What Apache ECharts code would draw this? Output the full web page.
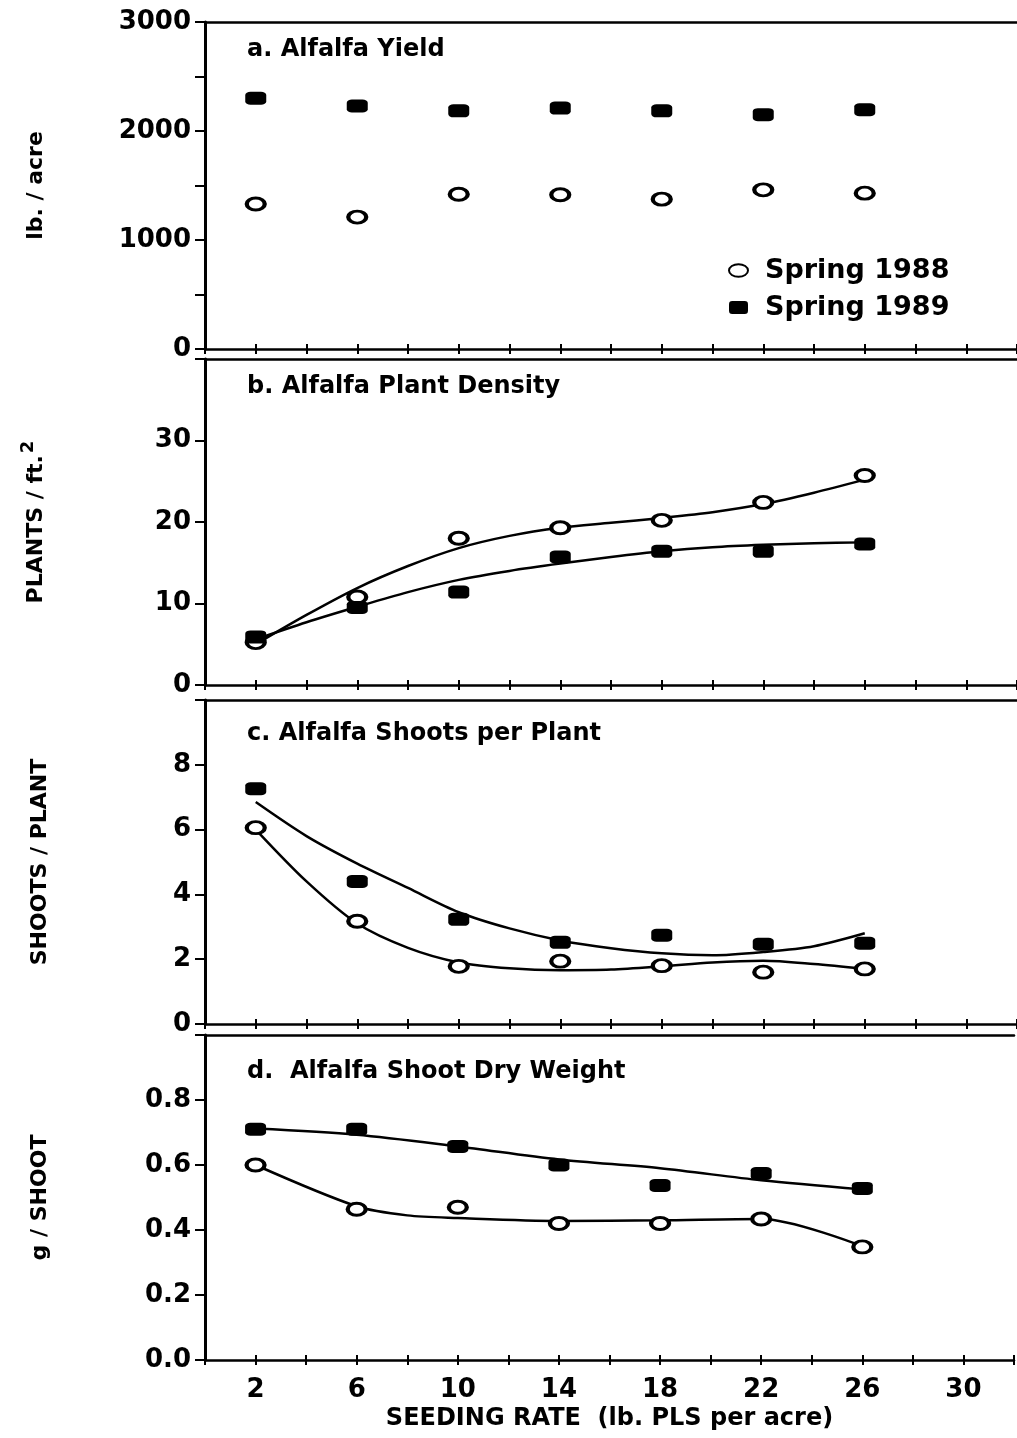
<!DOCTYPE html>
<html>
<head>
<meta charset="utf-8">
<title>Alfalfa seeding rate</title>
<script src="https://cdn.jsdelivr.net/npm/echarts@6/dist/echarts.min.js"></script>
<style>
  html, body { margin: 0; padding: 0; background: #fff; }
  #chart { width: 1017px; height: 1438px; }
</style>
</head>
<body>
<div id="chart"></div>
<script>
// seeding rates (lb. PLS per acre)
var rates = [2, 6, 10, 14, 18, 22, 26];
var fitRates = [2, 4, 6, 8, 10, 12, 14, 16, 18, 20, 22, 24, 26];
var xTicks = [2, 6, 10, 14, 18, 22, 26, 30];

// a. yield, lb / acre
var yield1988 = [1330, 1210, 1420, 1415, 1375, 1460, 1430];
var yield1989 = [2300, 2230, 2185, 2210, 2185, 2150, 2195];

// b. plant density, plants / ft2
var density1988 = [5.2, 10.8, 18.0, 19.3, 20.2, 22.4, 25.7];
var density1989 = [5.9, 9.5, 11.4, 15.7, 16.4, 16.4, 17.3];
var densityFit1988 = [5.0, 8.6, 11.9, 14.6, 16.8, 18.3, 19.3, 19.9, 20.5, 21.2, 22.2, 23.6, 25.2];
var densityFit1989 = [5.6, 7.7, 9.6, 11.4, 12.9, 14.0, 14.9, 15.7, 16.4, 16.9, 17.2, 17.4, 17.5];

// c. shoots per plant
var shoots1988 = [6.06, 3.17, 1.78, 1.94, 1.80, 1.60, 1.70];
var shoots1989 = [7.26, 4.40, 3.23, 2.52, 2.74, 2.46, 2.49];
var shootsFit1988 = [6.0, 4.4, 3.1, 2.35, 1.9, 1.72, 1.66, 1.68, 1.78, 1.9, 1.95, 1.85, 1.7];
var shootsFit1989 = [6.85, 5.8, 4.95, 4.2, 3.45, 2.95, 2.58, 2.34, 2.18, 2.12, 2.22, 2.4, 2.8];

// d. shoot dry weight, g / shoot
var weight1988 = [0.60, 0.464, 0.47, 0.42, 0.42, 0.434, 0.348];
var weight1989 = [0.71, 0.71, 0.657, 0.60, 0.537, 0.574, 0.528];
var weightFitRates1988 = [2, 6, 8, 10, 14, 18, 22, 26];
var weightFit1988 = [0.60, 0.473, 0.445, 0.437, 0.428, 0.43, 0.434, 0.35];
var weightFit1989 = [0.712, 0.693, 0.657, 0.617, 0.59, 0.553, 0.525];

(function () {
    var myChart = echarts.init(document.getElementById('chart'));
    var FONT = 'DejaVu Sans';
    var INK = '#000';
    // open ellipse used for the 1988 legend icon
    var OPEN_ICON = 'path://M0,6a9,6 0 1,0 18,0a9,6 0 1,0 -18,0z';

    function pairs(xs, ys) {
        return xs.map(function (x, i) { return [x, ys[i]]; });
    }

    var panels = [
        { title: 'a. Alfalfa Yield', titleTop: 38, top: 22, height: 327, max: 3000, step: 500,
          name: 'lb. / acre', nameGap: 158,
          fmt: function (v) { return v % 1000 === 0 ? v : ''; },
          open: yield1988, filled: yield1989 },
        { title: 'b. Alfalfa Plant Density', titleTop: 375, top: 359, height: 326, max: 40, step: 10,
          name: '{n|PLANTS / ft.}{s|2}', nameGap: 152,
          fmt: function (v) { return v < 40 ? v : ''; },
          open: density1988, filled: density1989,
          fits: [[fitRates, densityFit1988], [fitRates, densityFit1989]] },
        { title: 'c. Alfalfa Shoots per Plant', titleTop: 722, top: 700, height: 324, max: 10, step: 2,
          name: 'SHOOTS / PLANT', nameGap: 154,
          fmt: function (v) { return v < 10 ? v : ''; },
          open: shoots1988, filled: shoots1989,
          fits: [[fitRates, shootsFit1988], [fitRates, shootsFit1989]] },
        { title: 'd.  Alfalfa Shoot Dry Weight', titleTop: 1060, top: 1035, height: 325, max: 1, step: 0.2,
          name: 'g / SHOOT', nameGap: 154,
          fmt: function (v) { return v < 0.95 ? v.toFixed(1) : ''; },
          open: weight1988, filled: weight1989,
          fits: [[weightFitRates1988, weightFit1988], [rates, weightFit1989]] }
    ];

    var grid = [], xAxis = [], yAxis = [], series = [], title = [];
    var last = panels.length - 1;

    panels.forEach(function (p, i) {
        grid.push({ left: 205, width: 814, top: p.top, height: p.height });
        title.push({
            text: p.title, left: 247, top: p.titleTop, padding: 0,
            textStyle: { fontFamily: FONT, fontWeight: 'bold', fontSize: 24, color: INK }
        });

        // bottom axis, ticks outside
        xAxis.push({
            gridIndex: i, type: 'value', min: 0, max: 32, interval: 2, position: 'bottom',
            axisLine: { lineStyle: { color: INK, width: 2.5 } },
            axisTick: { length: 5, lineStyle: { color: INK, width: 2 } },
            splitLine: { show: false },
            axisLabel: {
                show: i === last, margin: 17, color: INK,
                fontFamily: FONT, fontWeight: 'bold', fontSize: 26,
                formatter: function (v) { return xTicks.indexOf(v) >= 0 ? v : ''; }
            },
            name: i === last ? 'SEEDING RATE  (lb. PLS per acre)' : '',
            nameLocation: 'middle', nameGap: 47,
            nameTextStyle: { fontFamily: FONT, fontWeight: 'bold', fontSize: 24, color: INK }
        });
        // same axis, ticks inside so they cross the line
        xAxis.push({
            gridIndex: i, type: 'value', min: 0, max: 32, interval: 2, position: 'bottom',
            axisLine: { show: false },
            axisTick: { inside: true, length: 5, lineStyle: { color: INK, width: 2 } },
            axisLabel: { show: false }, splitLine: { show: false }
        });
        // top frame line
        xAxis.push({
            gridIndex: i, type: 'value', min: 0, max: 32, position: 'top',
            axisLine: { lineStyle: { color: INK, width: 2.5 } },
            axisTick: { show: false }, axisLabel: { show: false }, splitLine: { show: false }
        });

        yAxis.push({
            gridIndex: i, type: 'value', min: 0, max: p.max, interval: p.step,
            axisLine: { show: true, lineStyle: { color: INK, width: 3 } },
            axisTick: { show: true, length: 8, lineStyle: { color: INK, width: 2 } },
            splitLine: { show: false },
            axisLabel: {
                margin: 14, color: INK, fontFamily: FONT, fontWeight: 'bold', fontSize: 26,
                formatter: p.fmt
            },
            name: p.name, nameLocation: 'middle', nameGap: p.nameGap, nameRotate: 90,
            nameTextStyle: {
                fontFamily: FONT, fontWeight: 'bold', fontSize: 22, color: INK,
                rich: {
                    n: { fontFamily: FONT, fontWeight: 'bold', fontSize: 22, color: INK },
                    s: { fontFamily: FONT, fontWeight: 'bold', fontSize: 18, color: INK, padding: [0, 0, 16, 2] }
                }
            }
        });
        yAxis.push({
            gridIndex: i, type: 'value', min: 0, max: p.max, interval: p.step,
            axisLine: { show: false },
            axisTick: { show: true, inside: true, length: 10, lineStyle: { color: INK, width: 2 } },
            axisLabel: { show: false }, splitLine: { show: false }
        });

        (p.fits || []).forEach(function (f) {
            series.push({
                type: 'line', xAxisIndex: 3 * i, yAxisIndex: 2 * i,
                data: pairs(f[0], f[1]), smooth: 0.3,
                showSymbol: false, silent: true,
                lineStyle: { color: INK, width: 2.5 }, z: 2
            });
        });

        series.push({
            name: 'Spring 1988', type: 'scatter', xAxisIndex: 3 * i, yAxisIndex: 2 * i,
            data: pairs(rates, p.open), symbol: 'circle', symbolSize: [18, 12],
            itemStyle: { color: '#fff', borderColor: INK, borderWidth: 3.5, opacity: 1 }, z: 3
        });
        series.push({
            name: 'Spring 1989', type: 'scatter', xAxisIndex: 3 * i, yAxisIndex: 2 * i,
            data: pairs(rates, p.filled), symbol: 'roundRect', symbolSize: [21, 13],
            itemStyle: { color: INK, opacity: 1 }, z: 3
        });
    });

    var option = {
        backgroundColor: '#fff',
        animation: false,
        title: title,
        legend: {
            data: [
                { name: 'Spring 1988', icon: OPEN_ICON },
                { name: 'Spring 1989', icon: 'roundRect' }
            ],
            orient: 'vertical', left: 723, top: 252, itemGap: 10,
            itemWidth: 19, itemHeight: 13,
            textStyle: { fontFamily: FONT, fontWeight: 'bold', fontSize: 27, color: INK, padding: [0, 0, 0, 12] }
        },
        grid: grid,
        xAxis: xAxis,
        yAxis: yAxis,
        series: series
    };

    myChart.setOption(option);
})();
</script>
</body>
</html>
